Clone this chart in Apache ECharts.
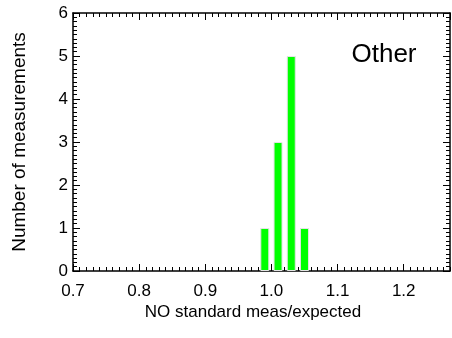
<!DOCTYPE html>
<html>
<head>
<meta charset="utf-8">
<script src="https://cdn.jsdelivr.net/npm/echarts@6/dist/echarts.min.js"></script>
<style>html,body{margin:0;padding:0;background:#fff}#c{width:452px;height:338px}</style>
</head>
<body>
<div id="c"></div>
<script>
const binCenters = [0.99, 1.01, 1.03, 1.05];
const counts = [1, 3, 5, 1];
const xTitle = "NO standard meas/expected";
const yTitle = "Number of measurements";
const panelLabel = "Other";

const FONT = "Liberation Sans, Arial, Helvetica, sans-serif";
const chart = echarts.init(document.getElementById('c'), null, {renderer: 'canvas'});
const grid = {left: 73, right: 2, top: 13, bottom: 67, containLabel: false};
const xMin = 0.7, xMax = 1.27;
const lineStyle = {color: '#000', width: 1.5};

function xAx(pos, interval, len, labels, line) {
  return {
    type: 'value', position: pos, min: xMin, max: xMax, interval: interval,
    axisLine: {show: line, onZero: false, lineStyle: lineStyle},
    axisTick: {show: true, inside: true, length: len, lineStyle: {color: '#000', width: 1}},
    axisLabel: {show: labels, showMaxLabel: false, color: '#000', fontSize: 17, fontFamily: FONT, margin: 12,
      formatter: v => v.toFixed(1)},
    splitLine: {show: false}
  };
}
function yAx(pos, labels) {
  return {
    type: 'value', position: pos, min: 0, max: 6, interval: 1,
    axisLine: {show: true, onZero: false, lineStyle: lineStyle},
    axisTick: {show: true, inside: true, length: 7, lineStyle: {color: '#000', width: 1}},
    minorTick: {show: true, splitNumber: 10, length: 4, lineStyle: {color: '#000', width: 1}},
    axisLabel: {show: labels, color: '#000', fontSize: 17, fontFamily: FONT, margin: 5},
    splitLine: {show: false}
  };
}

chart.setOption({
  backgroundColor: '#fff',
  animation: false,
  grid: grid,
  xAxis: [
    xAx('bottom', 0.1, 7, true, true),
    xAx('bottom', 0.01, 4, false, false),
    xAx('top', 0.1, 7, false, true),
    xAx('top', 0.01, 4, false, false)
  ],
  yAxis: [yAx('left', true), yAx('right', false)],
  series: [{
    type: 'bar', xAxisIndex: 0, yAxisIndex: 0,
    data: binCenters.map((c, i) => [c, counts[i]]),
    barWidth: 9,
    itemStyle: {color: '#00ff00', borderColor: '#e4e4e4', borderWidth: 1}
  }],
  graphic: [
    {type: 'text', x: 384, y: 55, style: {text: panelLabel, fontSize: 26, fontFamily: FONT, fill: '#000', align: 'center', verticalAlign: 'middle'}},
    {type: 'text', x: 253, y: 312, style: {text: xTitle, fontSize: 17, fontFamily: FONT, fill: '#000', align: 'center', verticalAlign: 'middle'}},
    {type: 'text', x: 20, y: 142, rotation: Math.PI / 2, style: {text: yTitle, fontSize: 19, fontFamily: FONT, fill: '#000', align: 'center', verticalAlign: 'middle'}}
  ]
});
</script>
</body>
</html>
